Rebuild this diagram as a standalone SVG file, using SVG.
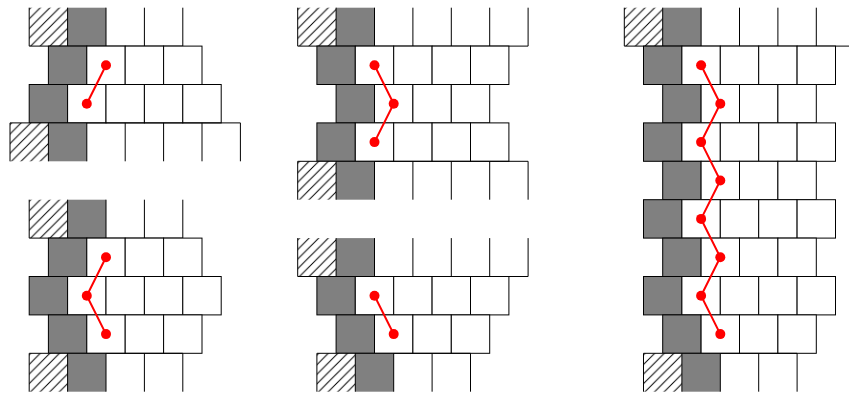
<svg xmlns="http://www.w3.org/2000/svg" width="849" height="394" viewBox="0 0 849 394">
<style>
.ln{fill:none;stroke:#000;stroke-width:1}
.c{stroke:#000;stroke-width:1}
.w{fill:#fff}
.g{fill:#808080}
.hx{fill:url(#hatch)}
.rl{fill:none;stroke:#f00;stroke-width:2}
.dot{fill:#f00}
</style>
<defs>
<pattern id="hatch" patternUnits="userSpaceOnUse" width="9.6" height="9.6">
<rect width="9.6" height="9.6" fill="#fff"/>
<path d="M-1 1L1 -1M0 9.6L9.6 0M8.6 10.6L10.6 8.6" stroke="#000" stroke-width="1"/>
</pattern>
</defs>
<rect width="849" height="394" fill="#fff"/>

<g id="panel-1">
<rect class="hx" x="29.2" y="7.7" width="38.4" height="38.4"/>
<rect class="g" x="67.6" y="7.7" width="38.4" height="38.4"/>
<path class="ln" d="M29.2 7.7V46.1H182.8M67.6 7.7V46.1M106 7.7V46.1M144.4 7.7V46.1M182.8 7.7V46.1"/>
<rect class="g c" x="48.4" y="46.1" width="38.4" height="38.4"/>
<rect class="w c" x="86.8" y="46.1" width="38.4" height="38.4"/>
<rect class="w c" x="125.2" y="46.1" width="38.4" height="38.4"/>
<rect class="w c" x="163.6" y="46.1" width="38.4" height="38.4"/>
<rect class="g c" x="29.2" y="84.5" width="38.4" height="38.4"/>
<rect class="w c" x="67.6" y="84.5" width="38.4" height="38.4"/>
<rect class="w c" x="106" y="84.5" width="38.4" height="38.4"/>
<rect class="w c" x="144.4" y="84.5" width="38.4" height="38.4"/>
<rect class="w c" x="182.8" y="84.5" width="38.4" height="38.4"/>
<rect class="hx" x="10" y="122.9" width="38.4" height="38.4"/>
<rect class="g" x="48.4" y="122.9" width="38.4" height="38.4"/>
<path class="ln" d="M10 161.3V122.9H240.4M48.4 122.9V161.3M86.8 122.9V161.3M125.2 122.9V161.3M163.6 122.9V161.3M202 122.9V161.3M240.4 122.9V161.3"/>
</g>

<g id="panel-2">
<rect class="hx" x="29.2" y="199.7" width="38.4" height="38.4"/>
<rect class="g" x="67.6" y="199.7" width="38.4" height="38.4"/>
<path class="ln" d="M29.2 199.7V238.1H182.8M67.6 199.7V238.1M106 199.7V238.1M144.4 199.7V238.1M182.8 199.7V238.1"/>
<rect class="g c" x="48.4" y="238.1" width="38.4" height="38.4"/>
<rect class="w c" x="86.8" y="238.1" width="38.4" height="38.4"/>
<rect class="w c" x="125.2" y="238.1" width="38.4" height="38.4"/>
<rect class="w c" x="163.6" y="238.1" width="38.4" height="38.4"/>
<rect class="g c" x="29.2" y="276.5" width="38.4" height="38.4"/>
<rect class="w c" x="67.6" y="276.5" width="38.4" height="38.4"/>
<rect class="w c" x="106" y="276.5" width="38.4" height="38.4"/>
<rect class="w c" x="144.4" y="276.5" width="38.4" height="38.4"/>
<rect class="w c" x="182.8" y="276.5" width="38.4" height="38.4"/>
<rect class="g c" x="48.4" y="314.9" width="38.4" height="38.4"/>
<rect class="w c" x="86.8" y="314.9" width="38.4" height="38.4"/>
<rect class="w c" x="125.2" y="314.9" width="38.4" height="38.4"/>
<rect class="w c" x="163.6" y="314.9" width="38.4" height="38.4"/>
<rect class="hx" x="29.2" y="353.3" width="38.4" height="38.4"/>
<rect class="g" x="67.6" y="353.3" width="38.4" height="38.4"/>
<path class="ln" d="M29.2 391.7V353.3H182.8M67.6 353.3V391.7M106 353.3V391.7M144.4 353.3V391.7M182.8 353.3V391.7"/>
</g>

<g id="panel-3">
<rect class="hx" x="297.7" y="7.7" width="38.4" height="38.4"/>
<rect class="g" x="336.1" y="7.7" width="38.4" height="38.4"/>
<path class="ln" d="M297.7 7.7V46.1H528.1M336.1 7.7V46.1M374.5 7.7V46.1M412.9 7.7V46.1M451.3 7.7V46.1M489.7 7.7V46.1M528.1 7.7V46.1"/>
<rect class="g c" x="316.9" y="46.1" width="38.4" height="38.4"/>
<rect class="w c" x="355.3" y="46.1" width="38.4" height="38.4"/>
<rect class="w c" x="393.7" y="46.1" width="38.4" height="38.4"/>
<rect class="w c" x="432.1" y="46.1" width="38.4" height="38.4"/>
<rect class="w c" x="470.5" y="46.1" width="38.4" height="38.4"/>
<rect class="g c" x="336.1" y="84.5" width="38.4" height="38.4"/>
<rect class="w c" x="374.5" y="84.5" width="38.4" height="38.4"/>
<rect class="w c" x="412.9" y="84.5" width="38.4" height="38.4"/>
<rect class="w c" x="451.3" y="84.5" width="38.4" height="38.4"/>
<rect class="g c" x="316.9" y="122.9" width="38.4" height="38.4"/>
<rect class="w c" x="355.3" y="122.9" width="38.4" height="38.4"/>
<rect class="w c" x="393.7" y="122.9" width="38.4" height="38.4"/>
<rect class="w c" x="432.1" y="122.9" width="38.4" height="38.4"/>
<rect class="w c" x="470.5" y="122.9" width="38.4" height="38.4"/>
<rect class="hx" x="297.7" y="161.3" width="38.4" height="38.4"/>
<rect class="g" x="336.1" y="161.3" width="38.4" height="38.4"/>
<path class="ln" d="M297.7 199.7V161.3H528.1M336.1 161.3V199.7M374.5 161.3V199.7M412.9 161.3V199.7M451.3 161.3V199.7M489.7 161.3V199.7M528.1 161.3V199.7"/>
</g>

<g id="panel-4">
<rect class="hx" x="297.7" y="238.1" width="38.4" height="38.4"/>
<rect class="g" x="336.1" y="238.1" width="38.4" height="38.4"/>
<path class="ln" d="M297.7 238.1V276.5H528.1M336.1 238.1V276.5M374.5 238.1V276.5M412.9 238.1V276.5M451.3 238.1V276.5M489.7 238.1V276.5M528.1 238.1V276.5"/>
<rect class="g c" x="316.9" y="276.5" width="38.4" height="38.4"/>
<rect class="w c" x="355.3" y="276.5" width="38.4" height="38.4"/>
<rect class="w c" x="393.7" y="276.5" width="38.4" height="38.4"/>
<rect class="w c" x="432.1" y="276.5" width="38.4" height="38.4"/>
<rect class="w c" x="470.5" y="276.5" width="38.4" height="38.4"/>
<rect class="g c" x="336.1" y="314.9" width="38.4" height="38.4"/>
<rect class="w c" x="374.5" y="314.9" width="38.4" height="38.4"/>
<rect class="w c" x="412.9" y="314.9" width="38.4" height="38.4"/>
<rect class="w c" x="451.3" y="314.9" width="38.4" height="38.4"/>
<rect class="hx" x="316.9" y="353.3" width="38.4" height="38.4"/>
<rect class="g" x="355.3" y="353.3" width="38.4" height="38.4"/>
<path class="ln" d="M316.9 391.7V353.3H470.5M355.3 353.3V391.7M393.7 353.3V391.7M432.1 353.3V391.7M470.5 353.3V391.7"/>
</g>

<g id="panel-5">
<rect class="hx" x="624.3" y="7.7" width="38.4" height="38.4"/>
<rect class="g" x="662.7" y="7.7" width="38.4" height="38.4"/>
<path class="ln" d="M624.3 7.7V46.1H854.7M662.7 7.7V46.1M701.1 7.7V46.1M739.5 7.7V46.1M777.9 7.7V46.1M816.3 7.7V46.1"/>
<rect class="g c" x="643.5" y="46.1" width="38.4" height="38.4"/>
<rect class="w c" x="681.9" y="46.1" width="38.4" height="38.4"/>
<rect class="w c" x="720.3" y="46.1" width="38.4" height="38.4"/>
<rect class="w c" x="758.7" y="46.1" width="38.4" height="38.4"/>
<rect class="w c" x="797.1" y="46.1" width="38.4" height="38.4"/>
<rect class="g c" x="662.7" y="84.5" width="38.4" height="38.4"/>
<rect class="w c" x="701.1" y="84.5" width="38.4" height="38.4"/>
<rect class="w c" x="739.5" y="84.5" width="38.4" height="38.4"/>
<rect class="w c" x="777.9" y="84.5" width="38.4" height="38.4"/>
<rect class="g c" x="643.5" y="122.9" width="38.4" height="38.4"/>
<rect class="w c" x="681.9" y="122.9" width="38.4" height="38.4"/>
<rect class="w c" x="720.3" y="122.9" width="38.4" height="38.4"/>
<rect class="w c" x="758.7" y="122.9" width="38.4" height="38.4"/>
<rect class="w c" x="797.1" y="122.9" width="38.4" height="38.4"/>
<rect class="g c" x="662.7" y="161.3" width="38.4" height="38.4"/>
<rect class="w c" x="701.1" y="161.3" width="38.4" height="38.4"/>
<rect class="w c" x="739.5" y="161.3" width="38.4" height="38.4"/>
<rect class="w c" x="777.9" y="161.3" width="38.4" height="38.4"/>
<rect class="g c" x="643.5" y="199.7" width="38.4" height="38.4"/>
<rect class="w c" x="681.9" y="199.7" width="38.4" height="38.4"/>
<rect class="w c" x="720.3" y="199.7" width="38.4" height="38.4"/>
<rect class="w c" x="758.7" y="199.7" width="38.4" height="38.4"/>
<rect class="w c" x="797.1" y="199.7" width="38.4" height="38.4"/>
<rect class="g c" x="662.7" y="238.1" width="38.4" height="38.4"/>
<rect class="w c" x="701.1" y="238.1" width="38.4" height="38.4"/>
<rect class="w c" x="739.5" y="238.1" width="38.4" height="38.4"/>
<rect class="w c" x="777.9" y="238.1" width="38.4" height="38.4"/>
<rect class="g c" x="643.5" y="276.5" width="38.4" height="38.4"/>
<rect class="w c" x="681.9" y="276.5" width="38.4" height="38.4"/>
<rect class="w c" x="720.3" y="276.5" width="38.4" height="38.4"/>
<rect class="w c" x="758.7" y="276.5" width="38.4" height="38.4"/>
<rect class="w c" x="797.1" y="276.5" width="38.4" height="38.4"/>
<rect class="g c" x="662.7" y="314.9" width="38.4" height="38.4"/>
<rect class="w c" x="701.1" y="314.9" width="38.4" height="38.4"/>
<rect class="w c" x="739.5" y="314.9" width="38.4" height="38.4"/>
<rect class="w c" x="777.9" y="314.9" width="38.4" height="38.4"/>
<rect class="hx" x="643.5" y="353.3" width="38.4" height="38.4"/>
<rect class="g" x="681.9" y="353.3" width="38.4" height="38.4"/>
<path class="ln" d="M643.5 391.7V353.3H797.1M681.9 353.3V391.7M720.3 353.3V391.7M758.7 353.3V391.7M797.1 353.3V391.7"/>
</g>

<g id="connectors">
<polyline class="rl" points="106,65.3 86.8,103.7"/>
<polyline class="rl" points="106,257.3 86.8,295.7 106,334.1"/>
<polyline class="rl" points="374.5,65.3 393.7,103.7 374.5,142.1"/>
<polyline class="rl" points="374.5,295.7 393.7,334.1"/>
<polyline class="rl" points="701.1,65.3 720.3,103.7 701.1,142.1 720.3,180.5 701.1,218.9 720.3,257.3 701.1,295.7 720.3,334.1"/>
</g>

<g id="dots-1"><circle class="dot" cx="106" cy="65.3" r="5"/><circle class="dot" cx="86.8" cy="103.7" r="5"/></g>
<g id="dots-2"><circle class="dot" cx="106" cy="257.3" r="5"/><circle class="dot" cx="86.8" cy="295.7" r="5"/><circle class="dot" cx="106" cy="334.1" r="5"/></g>
<g id="dots-3"><circle class="dot" cx="374.5" cy="65.3" r="5"/><circle class="dot" cx="393.7" cy="103.7" r="5"/><circle class="dot" cx="374.5" cy="142.1" r="5"/></g>
<g id="dots-4"><circle class="dot" cx="374.5" cy="295.7" r="5"/><circle class="dot" cx="393.7" cy="334.1" r="5"/></g>
<g id="dots-5"><circle class="dot" cx="701.1" cy="65.3" r="5"/><circle class="dot" cx="720.3" cy="103.7" r="5"/><circle class="dot" cx="701.1" cy="142.1" r="5"/><circle class="dot" cx="720.3" cy="180.5" r="5"/><circle class="dot" cx="701.1" cy="218.9" r="5"/><circle class="dot" cx="720.3" cy="257.3" r="5"/><circle class="dot" cx="701.1" cy="295.7" r="5"/><circle class="dot" cx="720.3" cy="334.1" r="5"/></g>
</svg>
